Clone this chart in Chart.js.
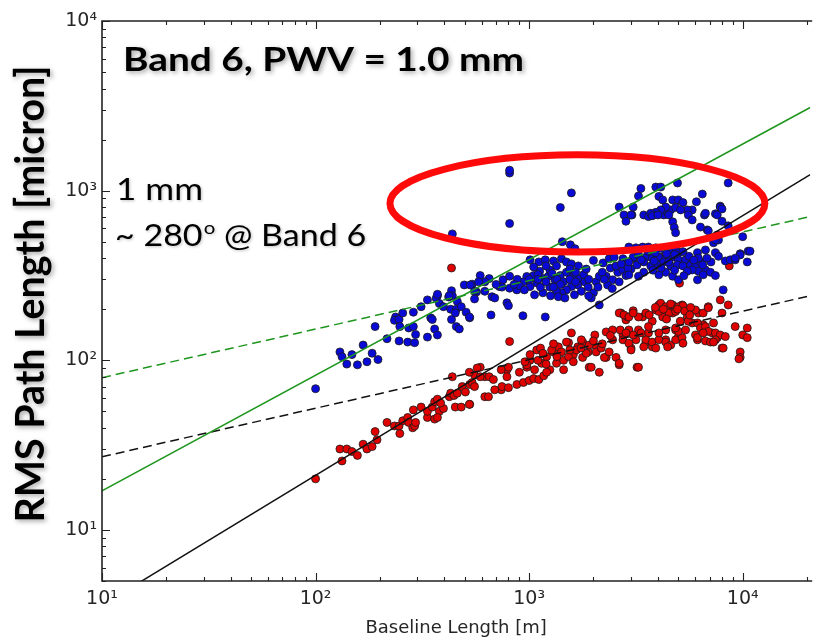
<!DOCTYPE html>
<html>
<head>
<meta charset="utf-8">
<script src="https://cdn.jsdelivr.net/npm/chart.js@4.4.1/dist/chart.umd.min.js"></script>
<style>
    html, body { margin: 0; padding: 0; background: #fff; }
    #wrap { width: 815px; height: 639px; }
</style>
</head>
<body>
<div id="wrap"><canvas id="chart" width="815" height="639"></canvas></div>
<script>
/* globals Chart:false */

(() => {
    'use strict'

    // axis ranges (baseline in m, rms path in micron)
    const X_MIN = 10
    const X_MAX = 20700
    const Y_MIN = 5
    const Y_MAX = 10000
    const MAJOR_TICKS = [10, 100, 1000, 10000]
    const SUPERSCRIPT = { 1: '\u00b9', 2: '\u00b2', 3: '\u00b3', 4: '\u2074' }

    // fitted lines, value at each end of the baseline range
    const FIT_BASELINE = [10, 20700]
    const GREEN_SOLID = [17, 3090]
    const GREEN_DASHED = [79, 703]
    const BLACK_SOLID = [3.6, 1242]
    const BLACK_DASHED = [27, 240]

    // [baseline m, rms path micron]
    const BLUE_POINTS = [
        [100, 68], [130, 112], [133, 105], [140, 95], [148, 108], [157, 94], [167, 123], [174, 98], [184, 110], [196, 101],
        [190, 158], [216, 134], [237, 180], [234, 172], [246, 174], [256, 190], [248, 158], [246, 130], [270, 128], [273, 155],
        [287, 158], [287, 192], [294, 142], [291, 127], [312, 207], [334, 227], [334, 137], [346, 178], [352, 174], [361, 153],
        [372, 240], [367, 232], [372, 141], [380, 216], [397, 207], [420, 236], [433, 257], [429, 200], [433, 174], [437, 240],
        [456, 200], [461, 222], [451, 190], [456, 158], [471, 153], [481, 207], [497, 278], [507, 192], [527, 178], [541, 281],
        [567, 253], [372, 245], [422, 240], [725, 272],
        [810, 1270], [810, 1320], [1577, 970], [1400, 795], [810, 640], [437, 556], [1430, 500], [1560, 479], [1640, 455],
        [2640, 800], [2780, 719], [2840, 660], [3030, 719], [3070, 800],
        [1010, 391], [1110, 380], [1190, 391], [1300, 385], [1417, 397], [1495, 380], [1577, 370], [1343, 360], [1250, 341],
        [1120, 335], [1050, 316], [975, 312], [940, 290], [1010, 272], [1085, 286], [1170, 303], [1230, 313], [1320, 298],
        [1400, 316], [1495, 330], [1610, 313], [1720, 303], [1820, 290], [1690, 278], [1577, 272], [1495, 260], [1417, 250],
        [1343, 255], [1250, 270], [1160, 250], [1130, 270], [1060, 243], [1260, 240], [1370, 237], [1470, 233], [1630, 243],
        [1755, 255], [1890, 270], [2000, 250], [1953, 233], [2060, 290], [2130, 313], [2000, 388], [2220, 375], [2370, 397],
        [2500, 405], [2294, 313], [2460, 298], [2330, 278], [2640, 290], [2600, 330], [2750, 341], [2840, 316], [3000, 345],
        [3070, 400], [2750, 397], [2130, 212],
        [590, 316], [650, 303], [530, 278], [555, 255], [555, 230], [620, 255], [670, 237], [690, 233], [755, 298], [810, 313],
        [746, 270], [810, 266], [876, 260], [787, 218], [800, 210], [663, 185], [525, 180], [935, 183], [1190, 180],
        [620, 290], [700, 280], [880, 300], [900, 275], [1000, 300], [1100, 320], [1200, 290], [1280, 325], [1350, 300],
        [1450, 290], [1550, 300], [1650, 290], [1800, 320], [1900, 300], [2100, 270], [2200, 330], [2400, 350], [2550, 360],
        [2700, 370], [2900, 350], [1700, 360], [1550, 345], [1400, 280], [1200, 360], [1100, 300], [950, 260], [850, 280],
        [580, 290], [1050, 355], [1300, 270], [1650, 330], [1850, 345], [2250, 300], [2450, 265], [1900, 240],
        [3336, 1030], [3917, 1050], [4132, 1050], [4950, 1110], [8550, 1110], [3250, 930], [4050, 925], [4220, 882], [4700, 882],
        [4990, 882], [5250, 850], [6070, 860], [6470, 955], [5800, 770], [5500, 770], [7850, 810], [7450, 730], [6820, 587],
        [3440, 719], [3620, 703], [3810, 719], [4050, 735], [4270, 719], [4450, 745], [4600, 770], [4850, 795], [5120, 770],
        [4360, 800], [4130, 770], [3920, 745], [3710, 735], [3770, 711], [4010, 719], [4510, 719], [4700, 655], [4780, 606],
        [4850, 565], [5560, 719], [5800, 672], [6340, 610], [6620, 719], [6690, 735], [7600, 719], [7850, 800], [8000, 780],
        [8000, 660], [6900, 580], [8550, 620], [10000, 535], [7300, 493], [7700, 512], [3000, 719],
        [2930, 465], [3162, 460], [3400, 465], [3620, 465], [3917, 460], [4220, 455], [4510, 447], [4850, 460], [5000, 430],
        [5250, 437], [3070, 405], [3250, 418], [3520, 405], [3770, 400], [4050, 405], [4360, 400], [4700, 405], [5000, 391],
        [5400, 391], [2930, 380], [3200, 365], [3440, 380], [3710, 360], [4010, 365], [4270, 380], [4600, 360], [4950, 365],
        [5250, 360], [5700, 365], [6010, 360], [6340, 380], [6690, 341], [6200, 335], [5800, 341], [5500, 335], [6140, 430],
        [6200, 400], [6690, 447], [4360, 330], [4050, 319], [4700, 313], [5000, 298], [6140, 298], [6530, 319], [7060, 330],
        [7450, 316], [3440, 330], [3250, 313], [2930, 319], [7450, 430], [7700, 410], [7450, 512], [8100, 260], [8290, 385],
        [8740, 391], [9220, 391], [9730, 425], [10500, 380], [10600, 440], [7600, 548], [10820, 440], [9730, 418], [9220, 400],
        [3600, 440], [3900, 430], [4400, 425], [4800, 420], [3350, 390], [3850, 385], [4150, 350], [4500, 380], [5600, 410],
        [5900, 390], [6500, 365], [7100, 380], [6800, 400], [3800, 340], [4800, 340], [5300, 315],
    ]

    const RED_POINTS = [
        [100, 20], [133, 25.5], [130, 30], [140, 30], [148, 29], [157, 27.5], [167, 32], [174, 30], [184, 31], [194, 34],
        [190, 38], [216, 43], [234, 41], [246, 41], [248, 37], [256, 44], [270, 46], [273, 43], [287, 51], [285, 40],
        [291, 41], [294, 43], [312, 53], [334, 46], [334, 50], [352, 53], [361, 45], [361, 57], [372, 59], [380, 50],
        [372, 46], [397, 52], [385, 56], [423, 61], [429, 64], [445, 62], [461, 64], [437, 80], [451, 53], [481, 53],
        [486, 70], [503, 65], [527, 72], [541, 74], [527, 55], [555, 82],
        [433, 350], [810, 129], [8650, 360], [5060, 285], [4130, 405],
        [590, 91], [620, 80], [650, 80], [680, 77], [740, 67], [787, 88], [876, 72], [975, 91], [1010, 100], [1085, 115],
        [1145, 96], [1207, 105], [1250, 88], [1300, 112], [1370, 120], [1450, 100], [1450, 88], [1530, 127], [1577, 145],
        [1610, 108], [1690, 120], [1780, 128], [1890, 112], [1910, 91], [2060, 120], [2130, 85], [2294, 147], [2294, 104],
        [2460, 132], [2640, 94], [2690, 190], [2750, 141], [2840, 173], [2930, 148], [3070, 196], [3162, 132], [3200, 91],
        [3250, 151], [3400, 180], [3520, 128], [3620, 145], [3770, 120], [3917, 198], [4050, 212], [4220, 180], [4360, 132],
        [4510, 207], [4700, 190], [4850, 151], [5000, 138], [5200, 212], [5500, 180], [5800, 166], [6010, 141], [6200, 190],
        [6530, 162], [6900, 207], [7200, 145], [7600, 136], [7850, 227], [8000, 118], [8550, 212], [9220, 158], [9730, 112],
        [9730, 104], [10000, 141], [10500, 155], [10500, 136],
        [4130, 217], [4360, 207], [4700, 212], [5000, 207], [5250, 210], [4050, 194], [4510, 190], [4850, 194], [3520, 190],
        [3250, 180], [2900, 180], [3770, 170], [3620, 158], [6010, 198], [6530, 190], [6900, 204], [8000, 190], [5560, 170],
        [6140, 166], [6340, 155], [6690, 158], [7300, 166], [6900, 148], [7450, 145], [7850, 141], [8290, 138], [6690, 130],
        [7060, 128], [6140, 132], [8100, 118], [9600, 102], [3250, 91], [2930, 151], [3070, 141], [3340, 145], [3520, 132],
        [3770, 128], [4050, 132], [4360, 128], [4600, 123], [4850, 132], [5200, 136], [5000, 148], [5400, 151], [4850, 155],
        [4360, 151], [4050, 145], [3000, 118], [3440, 120], [3917, 118], [4450, 120], [5250, 126], [6140, 136], [6530, 145],
        [7450, 132], [7300, 128],
        [525, 55], [620, 61], [645, 61], [690, 67], [746, 70], [800, 69], [940, 74], [1000, 76], [1050, 78], [1110, 77],
        [1170, 81], [590, 80], [571, 90], [525, 85], [555, 70], [740, 88], [787, 80], [800, 91], [975, 94], [955, 98],
        [1010, 108], [1060, 88], [1130, 118], [1160, 110], [1207, 85], [1274, 115], [1343, 96], [1417, 112], [1495, 128],
        [1530, 105], [1610, 98], [1663, 115], [1755, 132], [1780, 104], [1850, 110], [1910, 123], [1953, 91], [2030, 141],
        [2060, 112], [2174, 118], [2250, 104], [2370, 112], [2460, 151], [2553, 104], [2640, 96], [2670, 151], [2750, 132],
        [2840, 145], [2930, 126], [3000, 115], [2640, 190], [2780, 185], [2930, 180], [3070, 190],
        [3900, 205], [4250, 200], [4600, 215], [4950, 200], [5350, 195], [5700, 205], [3650, 185], [4400, 175], [5100, 170],
        [5650, 185], [1200, 95], [1350, 105], [1550, 115], [1750, 118], [2000, 130], [2200, 125], [2400, 140], [1100, 100],
        [900, 85], [1300, 125],
    ]

    // red ring drawn round the outliers, in data units
    const HIGHLIGHT = { xMin: 223, xMax: 12700, yMin: 435, yMax: 1626 }

    const TEXT_COLOR = '#262626'
    const GREEN = 'rgb(30, 150, 30)'
    const BLACK = '#111'

    const toXY = pairs => pairs.map(([x, y]) => ({ x, y }))
    const lineXY = ys => FIT_BASELINE.map((x, i) => ({ x, y: ys[i] }))
    const supLabel = value => {
        const exp = Math.round(Math.log10(value))
        return '10' + SUPERSCRIPT[exp]
    }

    function minorValues(min, max) {
        const out = []
        for (let d = 1; d <= 10000; d *= 10) {
            for (let m = 2; m <= 9; m++) {
                const v = m * d
                if (v >= min && v <= max) out.push(v)
            }
        }
        return out
    }

    function fittedText(ctx, text, x, y, font, width) {
        ctx.font = font
        const w = ctx.measureText(text).width
        ctx.save()
        ctx.translate(x, y)
        if (width) ctx.scale(width / w, 1)
        ctx.fillText(text, 0, 0)
        ctx.restore()
    }

    const overlay = {
        id: 'overlay',
        afterDatasetsDraw(chart) {
            const { ctx, chartArea: area } = chart
            const xs = chart.scales.x
            const ys = chart.scales.y

            // highlight ellipse
            const ex0 = xs.getPixelForValue(HIGHLIGHT.xMin)
            const ex1 = xs.getPixelForValue(HIGHLIGHT.xMax)
            const ey0 = ys.getPixelForValue(HIGHLIGHT.yMin)
            const ey1 = ys.getPixelForValue(HIGHLIGHT.yMax)
            ctx.save()
            ctx.beginPath()
            ctx.ellipse((ex0 + ex1) / 2, (ey0 + ey1) / 2, (ex1 - ex0) / 2, (ey0 - ey1) / 2, 0, 0, Math.PI * 2)
            ctx.lineWidth = 7
            ctx.strokeStyle = '#ff0a0a'
            ctx.stroke()
            ctx.restore()

            // frame and inward ticks
            ctx.save()
            ctx.strokeStyle = '#222'
            ctx.lineWidth = 1.6
            ctx.beginPath()
            ctx.moveTo(area.right + 2, area.top)
            ctx.lineTo(area.left, area.top)
            ctx.lineTo(area.left, area.bottom)
            ctx.lineTo(area.right + 2, area.bottom)
            ctx.stroke()

            ctx.lineWidth = 1.1
            ctx.beginPath()
            const xTicks = MAJOR_TICKS.map(v => [v, 8]).concat(minorValues(X_MIN, X_MAX).map(v => [v, 4]))
            xTicks.forEach(([v, len]) => {
                const px = Math.round(xs.getPixelForValue(v)) + 0.5
                ctx.moveTo(px, area.bottom)
                ctx.lineTo(px, area.bottom - len)
                ctx.moveTo(px, area.top)
                ctx.lineTo(px, area.top + len)
            })
            const yTicks = MAJOR_TICKS.map(v => [v, 8]).concat(minorValues(Y_MIN, Y_MAX).map(v => [v, 4]))
            yTicks.forEach(([v, len]) => {
                const py = Math.round(ys.getPixelForValue(v)) + 0.5
                ctx.moveTo(area.left, py)
                ctx.lineTo(area.left + len, py)
            })
            ctx.stroke()
            ctx.restore()

            // annotations with soft shadow
            ctx.save()
            ctx.fillStyle = '#000'
            ctx.shadowColor = 'rgba(0, 0, 0, 0.35)'
            ctx.shadowBlur = 5
            ctx.shadowOffsetX = 2
            ctx.shadowOffsetY = 2
            ctx.textBaseline = 'alphabetic'
            ctx.textAlign = 'left'
            fittedText(ctx, 'Band 6, PWV = 1.0 mm', 123, 71, 'bold 32px Lato', 401)

            ctx.save()
            ctx.translate(44, 294)
            ctx.rotate(-Math.PI / 2)
            ctx.textAlign = 'center'
            fittedText(ctx, 'RMS Path Length [micron]', 0, 0, 'bold 41px Lato', 457)
            ctx.restore()

            ctx.shadowColor = 'rgba(0, 0, 0, 0.25)'
            ctx.shadowBlur = 3
            ctx.shadowOffsetX = 1
            ctx.shadowOffsetY = 1
            fittedText(ctx, '1 mm', 116, 200, '30px Lato', 87)

            // "~ 280º @ Band 6" with raised small o
            ctx.save()
            ctx.font = '30px Lato'
            const partA = '~ 280'
            const partC = ' @ Band 6'
            const wA = ctx.measureText(partA).width
            const wC = ctx.measureText(partC).width
            ctx.font = '18px Lato'
            const wB = ctx.measureText('o').width
            const k = 250 / (wA + wB + wC)
            ctx.translate(115, 246)
            ctx.scale(k, 1)
            ctx.font = '30px Lato'
            ctx.fillText(partA, 0, 0)
            ctx.font = '18px Lato'
            ctx.fillText('o', wA + 1, -12)
            ctx.font = '30px Lato'
            ctx.fillText(partC, wA + wB + 1, 0)
            ctx.restore()
            ctx.restore()
        },
    }

    const scatterStyle = (fill) => ({
        type: 'scatter',
        backgroundColor: fill,
        borderColor: '#1a1a1a',
        borderWidth: 0.8,
        pointRadius: 4,
        pointHoverRadius: 4,
        order: 2,
    })

    const lineStyle = (color, dash) => ({
        type: 'scatter',
        showLine: true,
        borderColor: color,
        borderWidth: 1.5,
        borderDash: dash,
        pointRadius: 0,
        fill: false,
        order: 0,
    })

    const logAxis = (min, max, extra) => Object.assign({
        type: 'logarithmic',
        min: min,
        max: max,
        grid: { display: false, drawTicks: false },
        border: { display: false },
        afterBuildTicks: (scale) => {
            scale.ticks = MAJOR_TICKS.filter(v => v >= min && v <= max).map(v => ({ value: v }))
        },
    }, extra)

    new Chart(document.getElementById('chart'), {
        data: {
            datasets: [
                Object.assign({ label: 'green fit', data: lineXY(GREEN_SOLID) }, lineStyle(GREEN, [])),
                Object.assign({ label: 'green dashed', data: lineXY(GREEN_DASHED) }, lineStyle(GREEN, [9, 5])),
                Object.assign({ label: 'black fit', data: lineXY(BLACK_SOLID) }, lineStyle(BLACK, [])),
                Object.assign({ label: 'black dashed', data: lineXY(BLACK_DASHED) }, lineStyle(BLACK, [9, 5])),
                Object.assign({ label: 'before', data: toXY(BLUE_POINTS) }, scatterStyle('#0a0ad6')),
                Object.assign({ label: 'after', data: toXY(RED_POINTS) }, scatterStyle('#e00000')),
            ],
        },
        options: {
            responsive: false,
            animation: false,
            devicePixelRatio: 1,
            layout: { padding: { top: 21, right: 0, left: 0, bottom: 0 } },
            plugins: {
                legend: { display: false },
                tooltip: { enabled: false },
            },
            scales: {
                x: logAxis(X_MIN, X_MAX, {
                    position: 'bottom',
                    ticks: {
                        color: TEXT_COLOR,
                        font: { family: 'DejaVu Sans', size: 19 },
                        padding: 7,
                        maxRotation: 0,
                        autoSkip: false,
                        callback: supLabel,
                    },
                    title: {
                        display: true,
                        text: 'Baseline Length [m]',
                        color: TEXT_COLOR,
                        font: { family: 'DejaVu Sans', size: 18 },
                        padding: { top: 0, bottom: 0 },
                    },
                    afterFit: (scale) => { scale.height = 58 },
                }),
                y: logAxis(Y_MIN, Y_MAX, {
                    position: 'left',
                    ticks: {
                        color: TEXT_COLOR,
                        font: { family: 'DejaVu Sans', size: 19 },
                        padding: 5,
                        autoSkip: false,
                        callback: supLabel,
                    },
                    afterFit: (scale) => { scale.width = 102 },
                }),
            },
        },
        plugins: [overlay],
    })
})()
</script>
</body>
</html>
